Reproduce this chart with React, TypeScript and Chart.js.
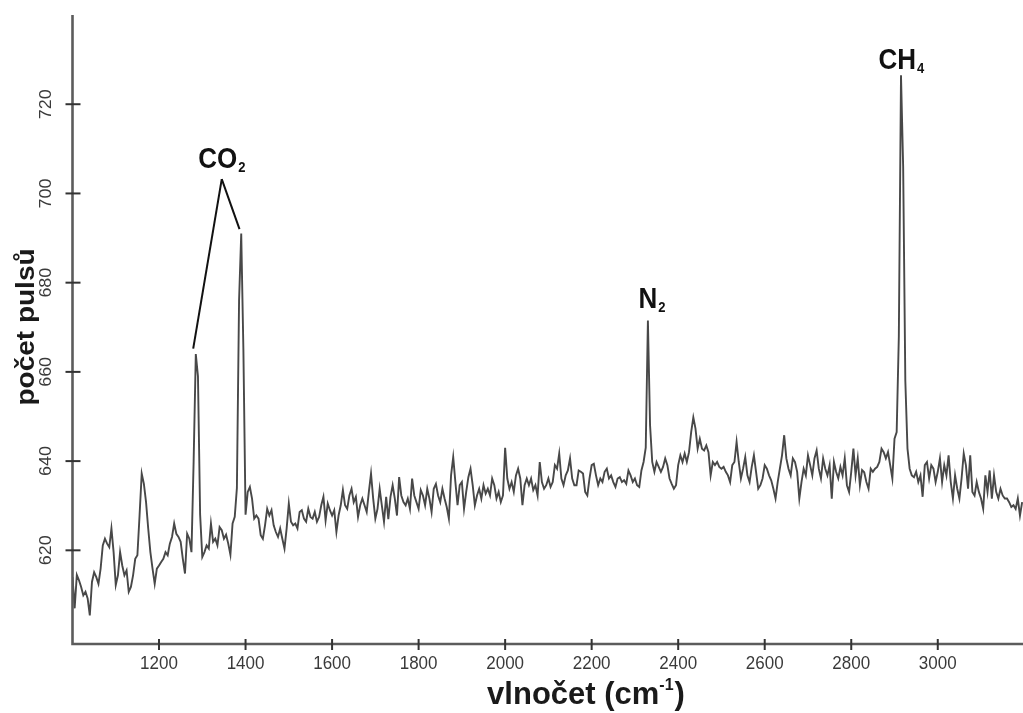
import React, { useEffect, useRef } from "react";
import { Chart, registerables } from "chart.js";

Chart.register(...registerables);

// Raman spectrum, sampled every 5 cm-1 starting at 1000 cm-1
const X_START = 1000;
const X_STEP = 5;
const X_MIN = 1000;
const X_MAX = 3197;
const Y_MIN = 599;
const Y_MAX = 740;

const counts: number[] = [
  // 1000-1095
  614, 607, 614.5, 613.3, 611.8, 609.9, 610.7, 609.2, 605.4, 612.9, 615.1, 614, 612.5, 615.9, 621.1, 622.6, 621.5, 620.7, 624.9, 619.6,
  // 1100-1195
  612.2, 614.4, 619.6, 616.6, 614.4, 615.5, 610.7, 611.8, 614.4, 618.1, 618.9, 627.8, 637.2, 634.9, 630.8, 624.9, 619.6, 615.9, 612.5, 615.9,
  // 1200-1295
  616.6, 617.4, 618.1, 619.6, 618.9, 621.5, 623, 626, 623.7, 623, 621.9, 618.1, 614.8, 623.7, 622.6, 619.6, 640, 664, 659, 628,
  // 1300-1395
  618.5, 619.6, 621.1, 620.4, 626, 621.9, 622.6, 621.1, 625.2, 624.5, 622.6, 623.5, 621.5, 619, 626, 627.5, 634, 676, 691, 665,
  // 1400-1495
  628, 633.1, 634.2, 631.6, 627.1, 627.8, 627.1, 623.4, 622.6, 625.6, 629.3, 627.8, 629, 625.6, 624.1, 623, 624.9, 622.6, 620.4, 624.9,
  // 1500-1595
  630.5, 626.4, 625.6, 626, 624.9, 628.6, 629, 627.1, 626.4, 629.3, 627.5, 627.1, 628.6, 626.4, 627.5, 630.1, 632, 626.7, 630.5, 629,
  // 1600-1695
  627.8, 629, 624.1, 627.8, 630.1, 633.5, 630.1, 629.3, 632.3, 633.8, 630.8, 632, 627.5, 630.1, 631.6, 630.1, 628.6, 633.1, 637.2, 631.6,
  // 1700-1795
  627.1, 629.3, 633.8, 630.1, 626.4, 632, 627, 632, 634.6, 631.6, 627.8, 636.4, 632.3, 630.8, 630.1, 631.6, 629.3, 636.1, 632.3, 630.8,
  // 1800-1895
  629.3, 633.5, 632.3, 630.1, 633.8, 631.6, 628.6, 633.8, 634.9, 632.3, 630.8, 633.8, 631.6, 629.7, 627.1, 636.8, 640.9, 635.3, 630.1, 634.6,
  // 1900-1995
  635.3, 629.3, 633.1, 636.4, 638.3, 634.6, 630.1, 632.3, 633.8, 631.6, 634.6, 632.7, 633.8, 632.3, 636.1, 634.6, 631.6, 633.1, 630.8, 632.3,
  // 2000-2095
  643, 636.1, 633.8, 635.3, 633.1, 636.8, 638.3, 636.1, 630.1, 634.6, 636.1, 634.6, 636.1, 633.5, 634.6, 632.3, 639.8, 635.3, 633.8, 634.6,
  // 2100-2195
  636.1, 634.2, 635.3, 639.1, 638.3, 641.7, 636.1, 634.6, 636.8, 637.9, 640.6, 636.1, 634.6, 634.6, 637.9, 637.6, 637.2, 633.1, 632.3, 636.1,
  // 2200-2295
  639.1, 639.4, 636.8, 634.6, 636.1, 635.3, 637.6, 638.3, 636.1, 636.8, 635.3, 634.2, 636.1, 636.4, 635.3, 635.7, 634.9, 637.9, 636.8, 635.3,
  // 2300-2395
  636.1, 634.6, 634.2, 637.9, 639.8, 643, 671.5, 648, 639.8, 637.6, 639.8, 638.7, 637.6, 638.7, 640.6, 639.1, 636.1, 634.9, 633.8, 634.6,
  // 2400-2495
  639.1, 641.3, 639.8, 641.7, 639.8, 642, 646.5, 649.8, 647.3, 642.8, 645, 642.8, 642.4, 643.5, 642, 636.8, 639.8, 639.1, 639.8, 638.7,
  // 2500-2595
  638.3, 638.7, 637.6, 636.8, 635.3, 639.1, 639.8, 644.3, 639.8, 636.1, 638.3, 640.9, 636.8, 635.3, 638.7, 641.3, 637.6, 633.8, 634.6, 636.1,
  // 2600-2695
  639.1, 638.3, 636.8, 635.7, 633.8, 631.6, 635.3, 638.3, 641.3, 645.8, 640.6, 638.3, 636.8, 640.6, 639.8, 637.6, 631.6, 635.3, 638.3, 636.8,
  // 2700-2795
  641.3, 639.1, 636.8, 640.6, 642.4, 638.3, 636.1, 640.6, 638.3, 636.8, 639.1, 631.6, 639.8, 637.6, 636.1, 638.7, 636.8, 640.6, 634.6, 633.1,
  // 2800-2895
  637.6, 642.8, 636.8, 640.6, 634.6, 638, 637.5, 635.3, 633.8, 638.3, 637.6, 638.3, 638.7, 639.8, 642.8, 642, 640.6, 642, 639.1, 636.1,
  // 2900-2995
  645, 646.5, 668, 726.5, 706, 658, 642.8, 638.3, 636.8, 636.4, 637.6, 635.3, 636.8, 632, 639.1, 639.8, 636.1, 639.1, 638.3, 635.3,
  // 3000-3095
  637.6, 640.6, 635.3, 639.1, 636.8, 641.3, 635.3, 631.6, 636.8, 633.8, 631.6, 636.1, 641.7, 639.1, 633.8, 641.3, 633.1, 632.3, 635.3, 633.1,
  // 3100-3195
  631.6, 629.3, 636.8, 633.1, 637.9, 631.6, 636.8, 633.1, 631.6, 633.8, 632.3, 631.6, 631.6, 630.8, 629.7, 630.1, 629.3, 631.6, 627.8, 630.8,
];

const xTicks = [1200, 1400, 1600, 1800, 2000, 2200, 2400, 2600, 2800, 3000];
const yTicks = [620, 640, 660, 680, 700, 720];

const xTitle = "vlnočet (cm";
const xTitleSup = "-1";
const yTitle = "počet pulsů";

// peak labels: main text, subscript, anchor wavenumber and count
const peakNames = ["CO", "N", "CH"];
const peakSubs = ["2", "2", "4"];
const peakWn = [1345, 2330, 2916];
const peakCount = [703.2, 671.5, 726.5];

// CO2 leader lines: apex -> each CO2 band top
const leaderFromWn = [1345, 1345];
const leaderFromCount = [703.2, 703.2];
const leaderToWn = [1279, 1386];
const leaderToCount = [665.2, 692];

const FONT = "'Liberation Sans', Arial, Helvetica, sans-serif";
const STRETCH = 1.12;

function stretchedText(
  ctx: CanvasRenderingContext2D,
  text: string,
  x: number,
  y: number,
  font: string,
  color: string,
  align: CanvasTextAlign,
  baseline: CanvasTextBaseline,
  rotate = 0,
  stretch = STRETCH
) {
  ctx.save();
  ctx.translate(x, y);
  if (rotate) {
    ctx.rotate(rotate);
    ctx.scale(stretch, 1);
  } else {
    ctx.scale(1, stretch);
  }
  ctx.font = font;
  ctx.fillStyle = color;
  ctx.textAlign = align;
  ctx.textBaseline = baseline;
  ctx.fillText(text, 0, 0);
  ctx.restore();
}

const decorPlugin = {
  id: "decor",
  afterDatasetsDraw(chart: any) {
    const { ctx, chartArea } = chart;
    const xs = chart.scales.x;
    const ys = chart.scales.y;
    const { left, right, top, bottom } = chartArea;
    ctx.save();

    // axes
    ctx.strokeStyle = "#5c5c5c";
    ctx.lineWidth = 2.6;
    ctx.beginPath();
    ctx.moveTo(left, top);
    ctx.lineTo(left, bottom);
    ctx.lineTo(right, bottom);
    ctx.stroke();

    // ticks
    ctx.strokeStyle = "#333";
    ctx.lineWidth = 2;
    for (const t of xTicks) {
      const px = xs.getPixelForValue(t);
      ctx.beginPath();
      ctx.moveTo(px, bottom - 5);
      ctx.lineTo(px, bottom + 6);
      ctx.stroke();
      stretchedText(ctx, String(t), px, bottom + 20, `17px ${FONT}`, "#3a3a3a", "center", "middle");
    }
    for (const t of yTicks) {
      const py = ys.getPixelForValue(t);
      ctx.beginPath();
      ctx.moveTo(left - 7, py);
      ctx.lineTo(left + 8, py);
      ctx.stroke();
      stretchedText(ctx, String(t), left - 26, py, `16px ${FONT}`, "#3a3a3a", "center", "middle", -Math.PI / 2);
    }

    // axis titles
    {
      const fMain = `bold 31px ${FONT}`;
      const fSup = `bold 16px ${FONT}`;
      ctx.font = fMain;
      const w1 = ctx.measureText(xTitle).width;
      const w3 = ctx.measureText(")").width;
      ctx.font = fSup;
      const w2 = ctx.measureText(xTitleSup).width;
      const total = w1 + w2 + w3 + 1;
      const cx = 586;
      const sx = cx - total / 2;
      const by = 704;
      stretchedText(ctx, xTitle, sx, by, fMain, "#1a1a1a", "left", "alphabetic", 0, 1.02);
      stretchedText(ctx, xTitleSup, sx + w1, by - 14, fSup, "#1a1a1a", "left", "alphabetic", 0, 1.02);
      stretchedText(ctx, ")", sx + w1 + w2 + 1, by, fMain, "#1a1a1a", "left", "alphabetic", 0, 1.02);

      stretchedText(ctx, yTitle, 34, 327, `bold 25px ${FONT}`, "#1a1a1a", "center", "alphabetic", -Math.PI / 2);
    }

    // CO2 leaders
    ctx.strokeStyle = "#111";
    ctx.lineWidth = 2;
    for (let i = 0; i < leaderFromWn.length; i++) {
      ctx.beginPath();
      ctx.moveTo(xs.getPixelForValue(leaderFromWn[i]), ys.getPixelForValue(leaderFromCount[i]));
      ctx.lineTo(xs.getPixelForValue(leaderToWn[i]), ys.getPixelForValue(leaderToCount[i]));
      ctx.stroke();
    }

    // peak labels
    const offsets = [11, 13, 6];
    const shifts = [0, 4, 0];
    for (let i = 0; i < peakNames.length; i++) {
      const fMain = `bold 26px ${FONT}`;
      const fSub = `bold 13px ${FONT}`;
      ctx.font = fMain;
      const w1 = ctx.measureText(peakNames[i]).width;
      ctx.font = fSub;
      const w2 = ctx.measureText(peakSubs[i]).width;
      const cx = xs.getPixelForValue(peakWn[i]) + shifts[i];
      const by = ys.getPixelForValue(peakCount[i]) - offsets[i];
      const sx = cx - (w1 + w2 + 1) / 2;
      stretchedText(ctx, peakNames[i], sx, by, fMain, "#111", "left", "alphabetic");
      stretchedText(ctx, peakSubs[i], sx + w1 + 1, by + 4, fSub, "#111", "left", "alphabetic");
    }

    ctx.restore();
  },
};

export default function App() {
  const ref = useRef<HTMLCanvasElement | null>(null);
  useEffect(() => {
    if (!ref.current) return;
    const data = counts.map((v, i) => ({ x: X_START + i * X_STEP, y: v }));
    const chart = new Chart(ref.current, {
      type: "line",
      data: {
        datasets: [
          {
            data,
            borderColor: "#484848",
            borderWidth: 1.9,
            pointRadius: 0,
            tension: 0,
            fill: false,
          },
        ],
      },
      options: {
        animation: false,
        responsive: false,
        maintainAspectRatio: false,
        layout: { padding: { left: 72.5, right: 0, top: 15, bottom: 69 } },
        plugins: { legend: { display: false }, tooltip: { enabled: false } },
        scales: {
          x: { type: "linear", display: false, min: X_MIN, max: X_MAX },
          y: { type: "linear", display: false, min: Y_MIN, max: Y_MAX },
        },
      },
      plugins: [decorPlugin],
    });
    return () => chart.destroy();
  }, []);
  return (
    <div style={{ position: "fixed", left: 0, top: 0, width: 1023, height: 713, background: "#fff" }}>
      <canvas ref={ref} width={1023} height={713} style={{ display: "block" }} />
    </div>
  );
}
